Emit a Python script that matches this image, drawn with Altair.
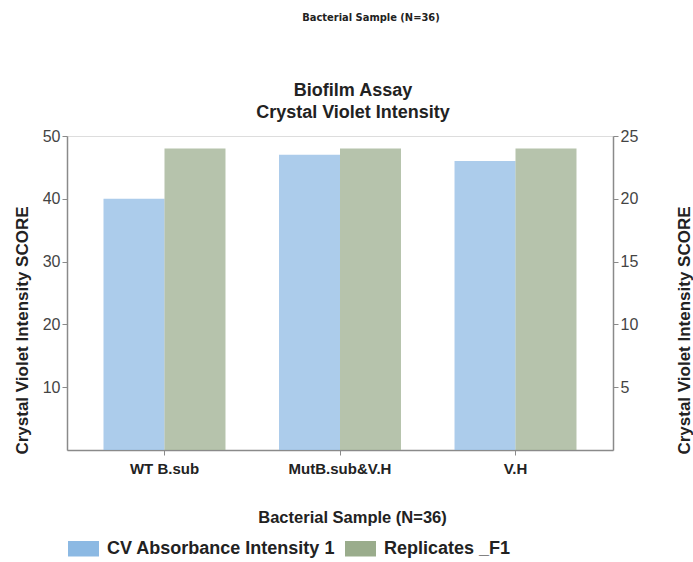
import altair as alt
import pandas as pd

# Crystal violet biofilm assay: intensity score per bacterial sample
samples = ["WT B.sub", "MutB.sub&V.H", "V.H"]
cv_intensity = [40, 47, 46]          # left axis (0-50)
replicates_f1 = [24, 24, 24]         # right axis (0-25)

series_names = ["CV Absorbance Intensity 1", "Replicates _F1"]
series_colors = ["#8cb9e3", "#9aac8c"]

title_lines = ["Biofilm Assay", "Crystal Violet Intensity"]
header_caption = "Bacterial Sample (N=36)"

rows = []
for s, a, b in zip(samples, cv_intensity, replicates_f1):
    rows.append({"sample": s, "series": series_names[0], "value": a})
    rows.append({"sample": s, "series": series_names[1], "value": b})
df = pd.DataFrame(rows)

FONT = "Liberation Sans"

x_enc = alt.X(
    "sample:N",
    sort=samples,
    scale=alt.Scale(paddingInner=0.305, paddingOuter=0.208),
    axis=alt.Axis(
        title="Bacterial Sample (N=36)",
        titleFont=FONT, titleFontSize=16.5, titleFontWeight="bold", titleColor="#222222",
        titleX=285, titlePadding=33,
        labelFont=FONT, labelFontSize=15, labelFontWeight="bold", labelColor="#222222",
        labelAngle=0, labelPadding=6,
        domainColor="#8a8a8a", domainWidth=1.5, tickColor="#8a8a8a", tickSize=5,
    ),
)
xoff = alt.XOffset("series:N", scale=alt.Scale(domain=series_names, paddingInner=0, paddingOuter=0))
color = alt.Color(
    "series:N",
    scale=alt.Scale(domain=series_names, range=series_colors),
    legend=alt.Legend(
        title=None, orient="none", direction="horizontal",
        legendX=1, legendY=397,
        symbolType="M-1,-0.5H1V0.5H-1Z", symbolSize=961, symbolOpacity=1,
        symbolStrokeWidth=0,
        labelFont=FONT, labelFontSize=18, labelFontWeight="bold", labelColor="#222222",
        labelOffset=8, columnPadding=9, labelLimit=400,
    ),
)

axis_common = dict(
    titleFont=FONT, titleFontSize=17, titleFontWeight="bold", titleColor="#222222",
    labelFont=FONT, labelFontSize=16, labelColor="#444444",
    domainColor="#8a8a8a", domainWidth=1.5, tickColor="#8a8a8a", tickSize=5,
    grid=False, titleY=194,
)

base = alt.Chart(df)

left = base.transform_filter(alt.datum.series == series_names[0]).mark_bar(opacity=0.72).encode(
    x=x_enc,
    xOffset=xoff,
    y=alt.Y(
        "value:Q",
        scale=alt.Scale(domain=[0, 50], nice=False),
        axis=alt.Axis(title="Crystal Violet Intensity SCORE", values=[10, 20, 30, 40, 50],
                      orient="left", titlePadding=11, **axis_common),
    ),
    color=color,
)

right = base.transform_filter(alt.datum.series == series_names[1]).mark_bar(opacity=0.72).encode(
    x=x_enc,
    xOffset=xoff,
    y=alt.Y(
        "value:Q",
        scale=alt.Scale(domain=[0, 25], nice=False),
        axis=alt.Axis(title="Crystal Violet Intensity SCORE", values=[5, 10, 15, 20, 25],
                      orient="right", titlePadding=56, titleAngle=270, **axis_common),
    ),
    color=color,
)

# chart title, two centred lines
title_df = pd.DataFrame({"t": title_lines, "y": [-45, -23]})
title_marks = alt.Chart(title_df).mark_text(
    font=FONT, fontSize=18, fontWeight="bold", color="#222222",
    align="center", baseline="middle",
).encode(text="t:N", x=alt.value(286), y=alt.Y("y:Q", scale=None, axis=None))

# small header caption above the chart
caption = alt.Chart(pd.DataFrame({"t": [header_caption]})).mark_text(
    font="DejaVu Sans Condensed", fontSize=11, fontWeight="bold", color="#222222",
    align="center", baseline="middle",
).encode(text="t:N", x=alt.value(304), y=alt.value(-118))

chart = (
    alt.layer(left, right, title_marks, caption)
    .resolve_scale(y="independent")
    .properties(
        width=546,
        height=314,
        padding={"left": 67, "top": 136, "right": 80, "bottom": 112},
        autosize=alt.AutoSizeParams(type="none"),
    )
    .configure_view(stroke=None)
    .configure(background="white")
)

chart.save("out.html", embed_options={"renderer": "svg", "actions": False})
